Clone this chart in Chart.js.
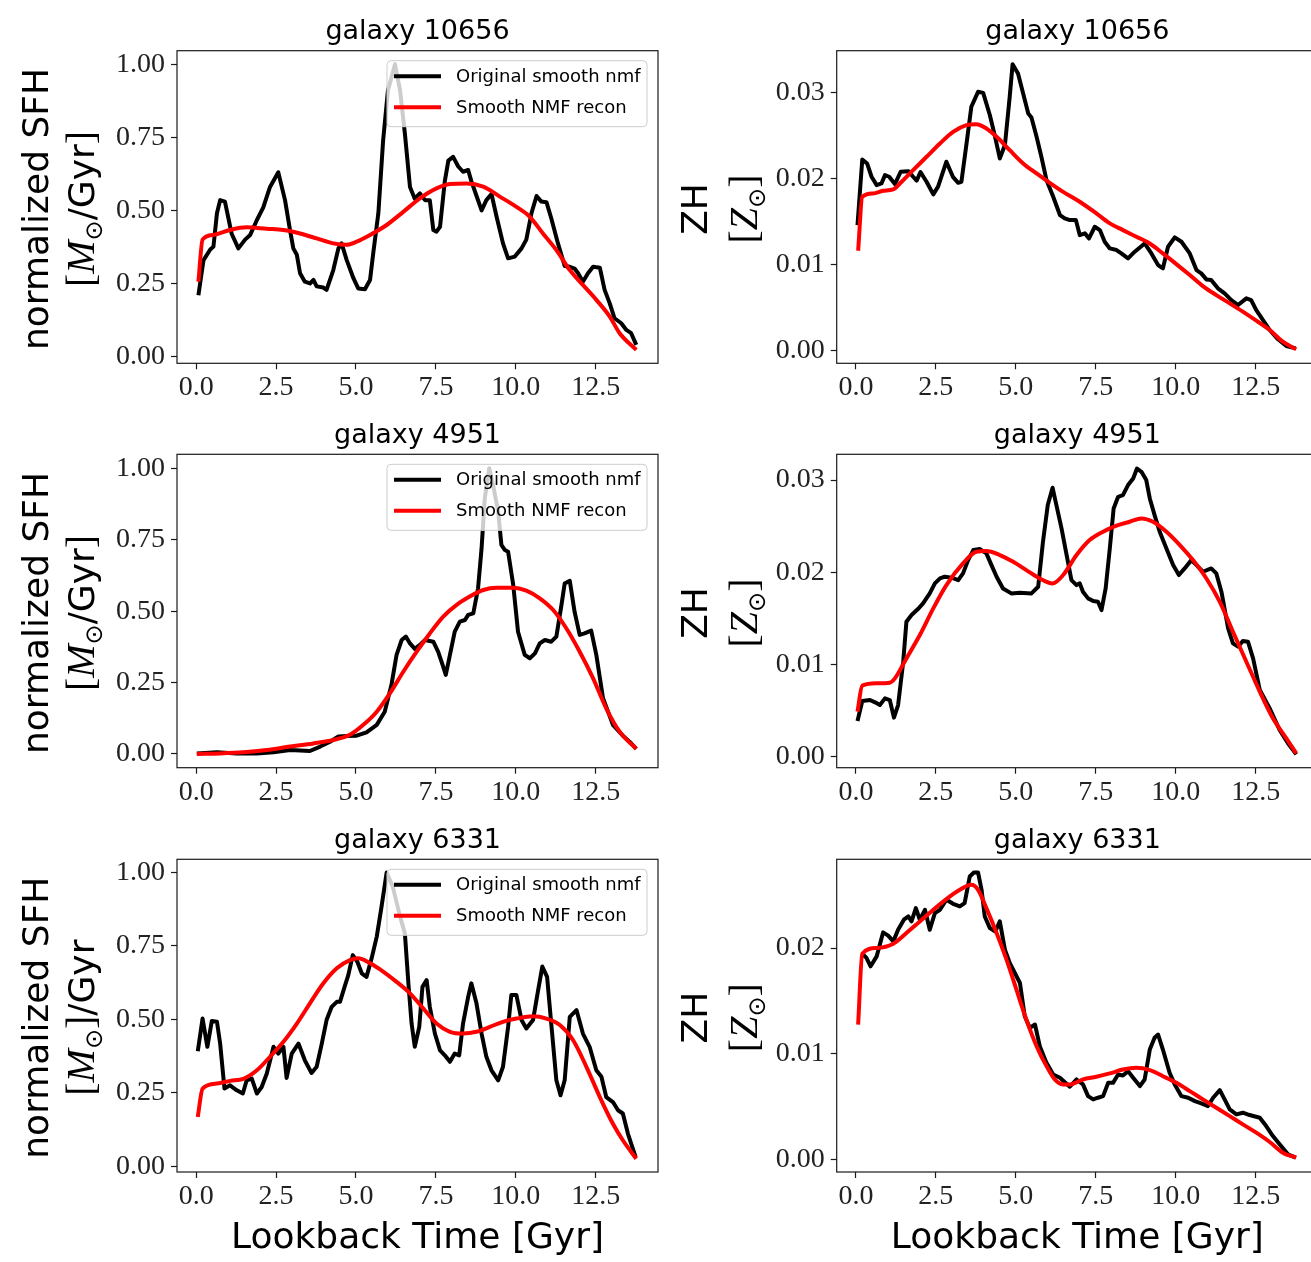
<!DOCTYPE html>
<html>
<head>
<meta charset="utf-8">
<script src="https://cdn.jsdelivr.net/npm/chart.js@4.4.1/dist/chart.umd.min.js"></script>
<style>
  html, body { margin: 0; padding: 0; background: #fff; overflow: hidden; }
  body { width: 1311px; height: 1262px; position: relative; }
  canvas { position: absolute; }
</style>
</head>
<body>
<canvas id="p1"></canvas>
<canvas id="p2"></canvas>
<canvas id="p3"></canvas>
<canvas id="p4"></canvas>
<canvas id="p5"></canvas>
<canvas id="p6"></canvas>
<script>
// tick values
const xTicks = [0, 2.5, 5, 7.5, 10, 12.5];
const sfhTicks = [0, 0.25, 0.5, 0.75, 1];
const zhTicks = [0, 0.01, 0.02, 0.03];
const zhTicks6331 = [0, 0.01, 0.02];

// [lookback time (Gyr), value]
const sfhOrig10656 = [[0.07,0.21],[0.23,0.33],[0.44,0.366],[0.54,0.376],[0.65,0.49],[0.75,0.535],[0.9,0.53],[1.11,0.42],[1.32,0.37],[1.53,0.40],[1.69,0.416],[1.9,0.467],[2.1,0.51],[2.31,0.58],[2.57,0.63],[2.78,0.535],[2.94,0.43],[3.04,0.37],[3.15,0.348],[3.25,0.285],[3.4,0.256],[3.56,0.25],[3.67,0.262],[3.77,0.24],[3.98,0.236],[4.08,0.228],[4.29,0.296],[4.45,0.37],[4.55,0.387],[4.71,0.33],[4.92,0.268],[5.07,0.233],[5.28,0.23],[5.44,0.262],[5.54,0.353],[5.7,0.49],[5.85,0.74],[6.0,0.91],[6.22,1.0],[6.38,0.91],[6.53,0.763],[6.69,0.58],[6.84,0.54],[7.0,0.558],[7.16,0.535],[7.31,0.535],[7.42,0.433],[7.52,0.427],[7.63,0.444],[7.78,0.60],[7.89,0.67],[8.04,0.683],[8.2,0.65],[8.35,0.632],[8.51,0.638],[8.61,0.60],[8.77,0.55],[8.93,0.50],[9.08,0.535],[9.24,0.556],[9.4,0.478],[9.6,0.387],[9.76,0.336],[9.97,0.342],[10.18,0.37],[10.33,0.40],[10.49,0.49],[10.65,0.549],[10.8,0.53],[10.96,0.528],[11.11,0.473],[11.32,0.387],[11.53,0.31],[11.69,0.307],[11.84,0.301],[11.95,0.285],[12.1,0.256],[12.26,0.285],[12.42,0.307],[12.63,0.304],[12.78,0.228],[12.94,0.182],[13.09,0.131],[13.3,0.114],[13.46,0.091],[13.61,0.08],[13.77,0.04]];
const sfhRec10656 = [[0.07,0.256],[0.2,0.40],[0.54,0.416],[1.06,0.433],[1.58,0.442],[2.21,0.437],[2.73,0.433],[3.25,0.421],[3.77,0.404],[4.29,0.387],[4.71,0.382],[5.02,0.393],[5.44,0.416],[5.96,0.45],[6.48,0.495],[7.0,0.541],[7.52,0.575],[7.94,0.59],[8.46,0.592],[8.98,0.581],[9.5,0.547],[10.02,0.512],[10.44,0.478],[10.85,0.421],[11.27,0.364],[11.69,0.296],[12.1,0.245],[12.52,0.194],[12.94,0.137],[13.25,0.08],[13.77,0.023]];

const zhOrig10656 = [[0.05,0.01463],[0.2,0.02226],[0.35,0.0218],[0.49,0.02025],[0.65,0.01928],[0.8,0.01947],[0.91,0.02044],[1.04,0.02025],[1.22,0.0194],[1.4,0.02083],[1.64,0.0209],[1.79,0.02025],[1.9,0.0198],[2.02,0.0208],[2.21,0.01967],[2.42,0.0182],[2.57,0.0191],[2.83,0.022],[3.04,0.0202],[3.2,0.01955],[3.3,0.01966],[3.46,0.02412],[3.61,0.02838],[3.82,0.03012],[3.98,0.03],[4.19,0.0274],[4.34,0.02509],[4.5,0.02238],[4.66,0.02393],[4.81,0.02954],[4.9,0.03333],[5.07,0.03225],[5.23,0.02993],[5.39,0.0276],[5.49,0.02714],[5.65,0.02489],[5.8,0.02257],[5.96,0.01986],[6.17,0.01793],[6.38,0.0158],[6.53,0.01541],[6.69,0.01521],[6.88,0.01521],[7.0,0.01347],[7.16,0.01367],[7.29,0.01309],[7.47,0.01444],[7.63,0.01405],[7.78,0.0127],[7.94,0.01192],[8.15,0.01173],[8.3,0.01134],[8.51,0.01076],[8.72,0.01154],[9.03,0.0125],[9.24,0.01134],[9.45,0.00999],[9.6,0.0096],[9.76,0.01212],[9.97,0.0132],[10.18,0.0127],[10.44,0.01134],[10.65,0.0094],[10.8,0.00902],[10.96,0.00832],[11.11,0.00825],[11.32,0.00728],[11.53,0.0067],[11.74,0.00592],[11.95,0.00534],[12.21,0.00612],[12.36,0.00592],[12.52,0.00476],[12.73,0.0036],[12.94,0.00244],[13.2,0.00136],[13.46,0.00058],[13.75,0.00031]];
const zhRec10656 = [[0.07,0.01165],[0.2,0.01792],[0.54,0.01831],[0.85,0.01862],[1.17,0.01878],[1.43,0.01967],[1.79,0.02102],[2.21,0.02257],[2.63,0.02412],[3.04,0.02547],[3.46,0.02625],[3.77,0.02636],[4.08,0.02586],[4.4,0.02489],[4.81,0.02334],[5.23,0.0218],[5.65,0.02063],[6.06,0.01955],[6.48,0.0185],[7.0,0.01734],[7.52,0.01599],[7.94,0.01483],[8.35,0.01405],[8.77,0.01328],[9.19,0.0125],[9.6,0.01134],[10.02,0.0101],[10.44,0.00883],[10.85,0.00755],[11.27,0.0065],[11.69,0.00554],[12.1,0.00457],[12.52,0.00352],[12.94,0.00244],[13.35,0.00108],[13.77,0.00019]];

const sfhOrig4951 = [[0.02,0.002],[0.65,0.006],[1.27,0.002],[1.9,0.002],[2.42,0.006],[2.94,0.014],[3.56,0.0105],[3.88,0.026],[4.19,0.043],[4.45,0.061],[4.71,0.063],[5.02,0.064],[5.33,0.076],[5.65,0.102],[5.9,0.148],[6.11,0.242],[6.27,0.347],[6.43,0.399],[6.56,0.411],[6.69,0.387],[6.84,0.368],[7.0,0.382],[7.16,0.399],[7.42,0.393],[7.57,0.358],[7.71,0.312],[7.81,0.277],[7.94,0.347],[8.09,0.428],[8.25,0.463],[8.41,0.469],[8.51,0.487],[8.67,0.492],[8.82,0.58],[8.93,0.72],[9.03,0.895],[9.17,1.0],[9.31,0.93],[9.45,0.848],[9.55,0.732],[9.66,0.714],[9.76,0.708],[9.92,0.592],[10.07,0.428],[10.28,0.347],[10.44,0.335],[10.6,0.352],[10.75,0.387],[10.91,0.399],[11.11,0.393],[11.27,0.411],[11.43,0.522],[11.53,0.597],[11.69,0.606],[11.84,0.498],[12.0,0.417],[12.15,0.422],[12.36,0.432],[12.52,0.347],[12.73,0.195],[13.04,0.102],[13.35,0.064],[13.56,0.043],[13.77,0.018]];
const sfhRec4951 = [[0.02,0.0],[0.75,0.002],[1.48,0.006],[2.21,0.014],[2.94,0.026],[3.67,0.037],[4.29,0.049],[4.81,0.067],[5.23,0.102],[5.65,0.148],[6.06,0.212],[6.48,0.288],[6.9,0.358],[7.31,0.422],[7.73,0.481],[8.15,0.522],[8.56,0.551],[8.98,0.574],[9.4,0.582],[9.92,0.582],[10.33,0.572],[10.75,0.545],[11.17,0.504],[11.58,0.44],[12.0,0.358],[12.42,0.265],[12.83,0.16],[13.25,0.078],[13.77,0.018]];

const zhOrig4951 = [[0.05,0.00387],[0.2,0.00604],[0.44,0.00614],[0.6,0.00589],[0.75,0.0056],[0.91,0.00632],[1.06,0.00614],[1.19,0.00423],[1.32,0.0056],[1.48,0.0103],[1.58,0.01464],[1.74,0.01536],[1.94,0.01601],[2.1,0.01662],[2.31,0.01771],[2.47,0.01879],[2.63,0.01934],[2.78,0.01952],[2.99,0.01941],[3.2,0.01915],[3.35,0.01988],[3.51,0.02132],[3.67,0.02241],[3.88,0.02252],[4.08,0.02205],[4.24,0.02078],[4.4,0.01952],[4.6,0.01825],[4.86,0.01771],[5.13,0.01778],[5.49,0.01771],[5.7,0.01843],[5.85,0.02331],[6.0,0.02729],[6.15,0.02917],[6.27,0.02729],[6.43,0.02476],[6.59,0.02187],[6.74,0.01915],[6.9,0.01861],[7.0,0.0188],[7.1,0.01789],[7.26,0.01717],[7.42,0.01688],[7.57,0.0168],[7.68,0.0159],[7.81,0.01825],[7.94,0.02259],[8.06,0.02693],[8.2,0.02819],[8.35,0.02837],[8.51,0.02946],[8.67,0.03018],[8.79,0.03126],[8.93,0.0309],[9.08,0.03],[9.19,0.02801],[9.34,0.0262],[9.5,0.0244],[9.71,0.02259],[9.92,0.02078],[10.1,0.0197],[10.28,0.02042],[10.49,0.02132],[10.65,0.02078],[10.85,0.02006],[11.11,0.02042],[11.27,0.01988],[11.43,0.01789],[11.64,0.01391],[11.79,0.01229],[11.95,0.01193],[12.1,0.01254],[12.26,0.01247],[12.42,0.01066],[12.63,0.00723],[12.94,0.00524],[13.25,0.00289],[13.51,0.00145],[13.77,0.00025]];
const zhRec4951 = [[0.05,0.00488],[0.2,0.0077],[0.65,0.00795],[1.06,0.00802],[1.22,0.00849],[1.58,0.01066],[2.0,0.01319],[2.42,0.01608],[2.83,0.01861],[3.35,0.02096],[3.77,0.02223],[4.08,0.0223],[4.5,0.02187],[4.92,0.02114],[5.33,0.02024],[5.75,0.01933],[6.15,0.01879],[6.48,0.0197],[6.9,0.02187],[7.31,0.02349],[7.73,0.0244],[8.15,0.02505],[8.56,0.02548],[8.93,0.02584],[9.29,0.02548],[9.71,0.0244],[10.13,0.02295],[10.54,0.02132],[10.96,0.01933],[11.38,0.0168],[11.79,0.01355],[12.21,0.0103],[12.63,0.00705],[13.04,0.00416],[13.46,0.00199],[13.77,0.00036]];

const sfhOrig6331 = [[0.05,0.392],[0.2,0.503],[0.35,0.407],[0.49,0.495],[0.65,0.492],[0.75,0.418],[0.885,0.265],[1.06,0.276],[1.27,0.259],[1.46,0.248],[1.58,0.293],[1.74,0.299],[1.9,0.248],[2.05,0.27],[2.21,0.316],[2.42,0.407],[2.57,0.384],[2.73,0.407],[2.83,0.301],[2.99,0.384],[3.2,0.418],[3.4,0.361],[3.61,0.318],[3.77,0.339],[3.93,0.418],[4.08,0.498],[4.24,0.543],[4.4,0.56],[4.5,0.56],[4.66,0.617],[4.76,0.651],[4.9,0.719],[5.04,0.697],[5.18,0.657],[5.33,0.645],[5.49,0.708],[5.65,0.782],[5.8,0.884],[5.96,1.0],[6.15,0.952],[6.38,0.85],[6.53,0.793],[6.64,0.623],[6.74,0.486],[6.84,0.407],[6.98,0.475],[7.08,0.611],[7.21,0.634],[7.31,0.543],[7.47,0.452],[7.63,0.395],[7.78,0.378],[7.94,0.356],[8.09,0.384],[8.23,0.378],[8.35,0.486],[8.51,0.577],[8.61,0.623],[8.77,0.555],[8.93,0.452],[9.08,0.373],[9.24,0.327],[9.45,0.293],[9.6,0.339],[9.76,0.475],[9.86,0.583],[10.02,0.583],[10.18,0.498],[10.33,0.469],[10.54,0.498],[10.7,0.6],[10.83,0.68],[10.98,0.645],[11.11,0.486],[11.27,0.293],[11.4,0.242],[11.53,0.293],[11.69,0.509],[11.9,0.532],[12.1,0.452],[12.31,0.407],[12.52,0.327],[12.68,0.305],[12.83,0.236],[13.04,0.219],[13.2,0.191],[13.35,0.18],[13.51,0.111],[13.75,0.032]];
const sfhRec6331 = [[0.05,0.168],[0.2,0.265],[0.65,0.282],[1.06,0.291],[1.48,0.298],[1.9,0.327],[2.31,0.373],[2.73,0.424],[3.15,0.486],[3.56,0.555],[3.98,0.623],[4.4,0.674],[4.81,0.702],[5.07,0.708],[5.44,0.691],[5.85,0.663],[6.27,0.628],[6.69,0.589],[7.1,0.538],[7.52,0.486],[7.94,0.458],[8.35,0.452],[8.77,0.458],[9.19,0.475],[9.6,0.492],[10.02,0.503],[10.54,0.511],[10.96,0.503],[11.38,0.481],[11.79,0.43],[12.21,0.339],[12.63,0.236],[13.04,0.145],[13.35,0.089],[13.77,0.026]];

const zhOrig6331 = [[0.2,0.01946],[0.33,0.01906],[0.46,0.01827],[0.65,0.01921],[0.85,0.02148],[1.01,0.02117],[1.17,0.02063],[1.32,0.02173],[1.5,0.02268],[1.64,0.02299],[1.74,0.02252],[1.875,0.02378],[2.0,0.02268],[2.16,0.02362],[2.31,0.02173],[2.47,0.02331],[2.63,0.02362],[2.83,0.02457],[3.04,0.02419],[3.25,0.02394],[3.4,0.02425],[3.56,0.02677],[3.69,0.02715],[3.82,0.02715],[3.93,0.02551],[4.03,0.02299],[4.19,0.02189],[4.36,0.02157],[4.5,0.02252],[4.66,0.01984],[4.81,0.01858],[4.97,0.01764],[5.13,0.01669],[5.28,0.01354],[5.44,0.01244],[5.6,0.01276],[5.75,0.01071],[5.96,0.00913],[6.17,0.00803],[6.38,0.00772],[6.69,0.00687],[6.9,0.00756],[7.1,0.00709],[7.26,0.00598],[7.42,0.00567],[7.57,0.00583],[7.73,0.00598],[7.89,0.00724],[8.04,0.00724],[8.2,0.00803],[8.35,0.00794],[8.51,0.00835],[8.67,0.00772],[8.88,0.00693],[9.03,0.00756],[9.19,0.01039],[9.34,0.0115],[9.45,0.01181],[9.6,0.01039],[9.81,0.00819],[9.97,0.00709],[10.18,0.00598],[10.39,0.00583],[10.6,0.00551],[10.8,0.00529],[11.01,0.00504],[11.17,0.00583],[11.38,0.00655],[11.53,0.00567],[11.69,0.00472],[11.9,0.00425],[12.1,0.00441],[12.31,0.00419],[12.63,0.00394],[12.83,0.00315],[13.04,0.0022],[13.25,0.00142],[13.51,0.00047],[13.75,0.00016]];
const zhRec6331 = [[0.07,0.01276],[0.2,0.01946],[0.65,0.02],[1.17,0.02041],[1.58,0.02142],[2.0,0.02252],[2.42,0.02362],[2.83,0.02463],[3.25,0.02551],[3.61,0.02598],[3.82,0.02551],[4.08,0.02378],[4.4,0.02142],[4.71,0.0189],[5.02,0.01606],[5.33,0.01323],[5.65,0.01071],[5.96,0.00882],[6.22,0.00756],[6.48,0.00709],[6.69,0.00709],[7.1,0.00756],[7.52,0.00781],[7.94,0.00813],[8.35,0.0085],[8.77,0.00866],[9.19,0.00844],[9.6,0.00787],[10.02,0.00724],[10.44,0.00646],[10.85,0.00567],[11.27,0.00488],[11.69,0.00409],[12.1,0.00331],[12.52,0.00252],[12.94,0.00164],[13.35,0.00063],[13.77,0.00016]];

const SANS = '"DejaVu Sans"';
const SERIF = '"Liberation Serif"';

const fSans = '36px ' + SANS;
const fBr = '40px ' + SERIF;
const fIt = 'italic 40px ' + SERIF;
const fSub = '24px ' + SANS;

const sfhLabel = [
  [{t: 'normalized SFH', f: fSans}],
  [{t: '[', f: fBr}, {t: 'M', f: fIt}, {t: '\u2299', f: fSub, dy: 8}, {t: '/Gyr', f: fSans}, {t: ']', f: fBr}]
];
const sfhLabel2 = [
  [{t: 'normalized SFH', f: fSans}],
  [{t: '[', f: fBr}, {t: 'M', f: fIt}, {t: '\u2299', f: fSub, dy: 8}, {t: ']', f: fBr}, {t: '/Gyr', f: fSans}]
];
const zhLabel = [
  [{t: 'ZH', f: fSans}],
  [{t: '[', f: fBr}, {t: 'Z', f: fIt}, {t: '\u2299', f: fSub, dy: 8}, {t: ']', f: fBr}]
];

const panels = [
  {id: 'p1', left: 0,   top: 0,   w: 670, h: 400, yW: 177,   xH: 36.7, tTop: 16.1, title: 'galaxy 10656', orig: sfhOrig10656, rec: sfhRec10656, yMin: -0.023, yMax: 1.046, yTicks: sfhTicks, dec: 2, legend: true,  label: sfhLabel,  lx: [48, 94],   xTitle: false},
  {id: 'p2', left: 670, top: 0,   w: 660, h: 400, yW: 166.7, xH: 36.7, tTop: 16.1, title: 'galaxy 10656', orig: zhOrig10656,  rec: zhRec10656,  yMin: -0.00143, yMax: 0.0349, yTicks: zhTicks, dec: 2, legend: false, label: zhLabel, lx: [36.7, 87], xTitle: false},
  {id: 'p3', left: 0,   top: 400, w: 670, h: 405, yW: 177,   xH: 37.3, tTop: 19.7, title: 'galaxy 4951', orig: sfhOrig4951, rec: sfhRec4951, yMin: -0.048, yMax: 1.049, yTicks: sfhTicks, dec: 2, legend: true,  label: sfhLabel,  lx: [48, 94],   xTitle: false},
  {id: 'p4', left: 670, top: 400, w: 660, h: 405, yW: 166.7, xH: 37.3, tTop: 19.7, title: 'galaxy 4951', orig: zhOrig4951,  rec: zhRec4951,  yMin: -0.0012, yMax: 0.0328, yTicks: zhTicks, dec: 2, legend: false, label: zhLabel, lx: [36.7, 87], xTitle: false},
  {id: 'p5', left: 0,   top: 805, w: 670, h: 457, yW: 177,   xH: 90,   tTop: 19.7, title: 'galaxy 6331', orig: sfhOrig6331, rec: sfhRec6331, yMin: -0.019, yMax: 1.045, yTicks: sfhTicks, dec: 2, legend: true,  label: sfhLabel2, lx: [48, 94],   xTitle: true},
  {id: 'p6', left: 670, top: 805, w: 660, h: 457, yW: 166.7, xH: 90,   tTop: 19.7, title: 'galaxy 6331', orig: zhOrig6331,  rec: zhRec6331,  yMin: -0.0012, yMax: 0.0284, yTicks: zhTicks6331, dec: 2, legend: false, label: zhLabel, lx: [36.7, 87], xTitle: true}
];

function pts(rows) { return rows.map(r => ({x: r[0], y: r[1]})); }

// axes box drawn on top of the lines, like matplotlib spines
const framePlugin = {
  id: 'frame',
  afterDatasetsDraw(chart) {
    const ctx = chart.ctx, a = chart.chartArea;
    ctx.save();
    ctx.strokeStyle = '#1a1a1a';
    ctx.lineWidth = 1.2;
    ctx.strokeRect(a.left, a.top, a.right - a.left, a.bottom - a.top);
    ctx.restore();
  }
};

// legend box in the upper right corner of the plot area
const boxLegend = {
  id: 'boxLegend',
  afterDraw(chart) {
    const ctx = chart.ctx, a = chart.chartArea;
    const w = 260, h = 66, x = a.right - 11 - w, y = a.top + 10;
    ctx.save();
    ctx.beginPath();
    if (ctx.roundRect) ctx.roundRect(x, y, w, h, 4); else ctx.rect(x, y, w, h);
    ctx.fillStyle = 'rgba(255,255,255,0.8)';
    ctx.fill();
    ctx.strokeStyle = '#cccccc';
    ctx.lineWidth = 1;
    ctx.stroke();
    chart.data.datasets.forEach((ds, i) => {
      const ly = y + 15.5 + i * 31;
      ctx.strokeStyle = ds.borderColor;
      ctx.lineWidth = 4;
      ctx.beginPath();
      ctx.moveTo(x + 7, ly);
      ctx.lineTo(x + 54, ly);
      ctx.stroke();
      ctx.fillStyle = '#000';
      ctx.font = '18px ' + SANS;
      ctx.textBaseline = 'middle';
      ctx.fillText(ds.label, x + 69, ly + 1);
    });
    ctx.restore();
  }
};

// two-line y axis label with mixed fonts (text + math parts)
function yTitle(lines, xs) {
  return {
    id: 'yTitle',
    afterDraw(chart) {
      const ctx = chart.ctx, a = chart.chartArea;
      const cy = (a.top + a.bottom) / 2 + 2;
      ctx.save();
      ctx.fillStyle = '#000';
      ctx.textBaseline = 'alphabetic';
      lines.forEach((parts, k) => {
        ctx.save();
        ctx.translate(xs[k], cy);
        ctx.rotate(-Math.PI / 2);
        let total = 0;
        const widths = parts.map(p => { ctx.font = p.f; const w = ctx.measureText(p.t).width; total += w; return w; });
        let x = -total / 2;
        parts.forEach((p, i) => {
          ctx.font = p.f;
          ctx.fillText(p.t, x, p.dy || 0);
          x += widths[i];
        });
        ctx.restore();
      });
      ctx.restore();
    }
  };
}

panels.forEach(p => {
  const cv = document.getElementById(p.id);
  cv.width = p.w;
  cv.height = p.h;
  cv.style.left = p.left + 'px';
  cv.style.top = p.top + 'px';
  cv.style.width = p.w + 'px';
  cv.style.height = p.h + 'px';

  const extra = [framePlugin, yTitle(p.label, p.lx)];
  if (p.legend) extra.push(boxLegend);

  new Chart(cv, {
    type: 'line',
    data: {
      datasets: [
        {label: 'Original smooth nmf', data: pts(p.orig), borderColor: '#000000', borderWidth: 4,
         pointRadius: 0, tension: 0, borderJoinStyle: 'round', order: 2},
        {label: 'Smooth NMF recon', data: pts(p.rec), borderColor: '#ff0000', borderWidth: 4,
         pointRadius: 0, cubicInterpolationMode: 'monotone', borderJoinStyle: 'round', order: 1}
      ]
    },
    options: {
      responsive: false,
      animation: false,
      devicePixelRatio: 1,
      events: [],
      layout: {padding: {left: 0, right: 12, top: 0, bottom: 0}},
      plugins: {
        legend: {display: false},
        tooltip: {enabled: false},
        title: {
          display: true, fullSize: false, text: p.title, color: '#000',
          font: {family: SANS, size: 27, weight: 'normal', lineHeight: 1.2},
          padding: {top: p.tTop, bottom: 2.2}
        }
      },
      scales: {
        x: {
          type: 'linear', min: -0.6, max: 14.45, bounds: 'data',
          afterFit: s => { s.height = p.xH; },
          afterBuildTicks: s => { s.ticks = xTicks.map(v => ({value: v})); },
          ticks: {
            callback: v => Number(v).toFixed(1),
            font: {family: SERIF, size: 28, lineHeight: 1.2},
            color: '#222', padding: 2, maxRotation: 0, autoSkip: false
          },
          grid: {display: true, drawOnChartArea: false, drawTicks: true, tickLength: 6, tickWidth: 1.2, tickColor: '#1a1a1a'},
          border: {display: false},
          title: {
            display: p.xTitle, text: 'Lookback Time [Gyr]', color: '#000',
            font: {family: SANS, size: 36, lineHeight: 1.2},
            padding: {top: 0, bottom: 2}
          }
        },
        y: {
          type: 'linear', min: p.yMin, max: p.yMax, bounds: 'data',
          afterFit: s => { s.width = p.yW; },
          afterBuildTicks: s => { s.ticks = p.yTicks.map(v => ({value: v})); },
          ticks: {
            callback: v => Number(v).toFixed(p.dec),
            font: {family: SERIF, size: 28, lineHeight: 1.2},
            color: '#222', padding: 6, autoSkip: false
          },
          grid: {display: true, drawOnChartArea: false, drawTicks: true, tickLength: 6, tickWidth: 1.2, tickColor: '#1a1a1a'},
          border: {display: false}
        }
      }
    },
    plugins: extra
  });
});
</script>
</body>
</html>
